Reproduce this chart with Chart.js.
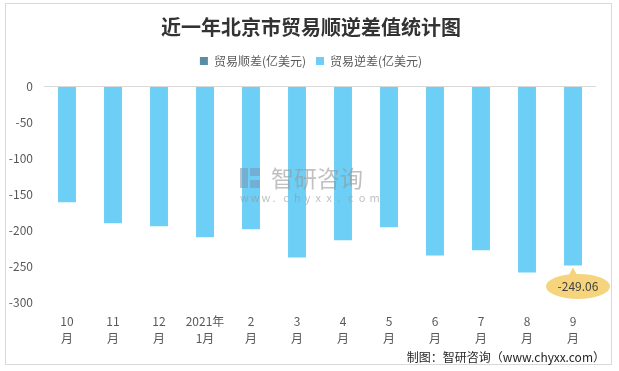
<!DOCTYPE html>
<html>
<head>
<meta charset="utf-8">
<script src="https://cdn.jsdelivr.net/npm/chart.js@4.4.1/dist/chart.umd.min.js"></script>
<style>
  html, body { margin: 0; padding: 0; background: #ffffff; }
  #wrap { position: relative; width: 619px; height: 371px; }
  canvas { display: block; }
</style>
</head>
<body>
<div id="wrap"><canvas id="c" width="619" height="371"></canvas></div>
<script>
const titleText = '近一年北京市贸易顺逆差值统计图';
const categories = [['10','月'],['11','月'],['12','月'],['2021年','1月'],['2','月'],['3','月'],['4','月'],['5','月'],['6','月'],['7','月'],['8','月'],['9','月']];
const surplusLabel = '贸易顺差(亿美元)';
const deficitLabel = '贸易逆差(亿美元)';
const surplus = [null, null, null, null, null, null, null, null, null, null, null, null];
const deficit = [-161.2, -190.5, -194.6, -210.0, -198.8, -237.9, -214.2, -196.0, -235.1, -228.1, -258.8, -249.06];
const yMin = -300, yMax = 0, yStep = 50;
const calloutIndex = 11;
const footerText = '制图：智研咨询（www.chyxx.com）';
const watermarkName = '智研咨询';
const watermarkUrl = 'www.chyxx.com';

const FONT = "'Noto Sans CJK SC', 'Noto Sans', sans-serif";

const decorPlugin = {
  id: 'decor',
  beforeDraw(chart) {
    const ctx = chart.ctx;
    ctx.save();
    ctx.strokeStyle = '#d9d9d9';
    ctx.lineWidth = 1;
    ctx.strokeRect(5.5, 3.5, 606, 361);
    ctx.restore();
  },
  afterDatasetsDraw(chart) {
    const ctx = chart.ctx;
    // watermark
    ctx.save();
    ctx.fillStyle = 'rgba(120,150,180,0.55)';
    ctx.fillRect(240, 168, 8, 20);
    ctx.fillRect(250, 168, 10, 8);
    ctx.fillRect(250, 180, 10, 8);
    ctx.fillStyle = 'rgba(150,150,150,0.6)';
    ctx.font = "23px " + FONT;
    ctx.textBaseline = 'middle';
    ctx.textAlign = 'left';
    ctx.fillText(watermarkName, 271, 178);
    ctx.font = "11px " + FONT;
    const chars = watermarkUrl.split('');
    let x = 240;
    chars.forEach(ch => { ctx.fillText(ch, x, 198); x += 10.8; });
    ctx.restore();

    // callout
    const meta = chart.getDatasetMeta(1);
    const el = meta.data[calloutIndex];
    if (!el) return;
    const bx = el.x, by = el.y;
    const cx = bx + 5, cy = by + 21;
    ctx.save();
    ctx.fillStyle = '#F6D47E';
    ctx.beginPath();
    ctx.moveTo(bx - 6, cy - 8);
    ctx.lineTo(bx, by + 2);
    ctx.lineTo(bx + 6, cy - 8);
    ctx.closePath();
    ctx.fill();
    ctx.beginPath();
    ctx.ellipse(cx, cy, 32, 12.5, 0, 0, Math.PI * 2);
    ctx.fill();
    ctx.fillStyle = '#404040';
    ctx.font = "12px " + FONT;
    ctx.textAlign = 'center';
    ctx.textBaseline = 'middle';
    ctx.fillText(deficit[calloutIndex].toFixed(2), cx, cy);
    ctx.restore();
  },
  afterDraw(chart) {
    const ctx = chart.ctx;
    ctx.save();
    ctx.fillStyle = '#262626';
    ctx.font = "12px " + FONT;
    ctx.textAlign = 'right';
    ctx.textBaseline = 'middle';
    ctx.fillText(footerText, 605, 357);
    ctx.restore();
  }
};

new Chart(document.getElementById('c'), {
  type: 'bar',
  data: {
    labels: categories,
    datasets: [
      { label: surplusLabel, data: surplus, backgroundColor: '#5A8CA5', grouped: false },
      { label: deficitLabel, data: deficit, backgroundColor: '#6DCFF6', grouped: false }
    ]
  },
  options: {
    responsive: false,
    animation: false,
    devicePixelRatio: 1,
    layout: { padding: { left: 5, right: 2, top: 0, bottom: 24 } },
    datasets: { bar: { categoryPercentage: 1, barPercentage: 0.39 } },
    plugins: {
      title: {
        display: true,
        text: titleText,
        color: '#333333',
        font: { family: FONT, size: 20, weight: 'bold', lineHeight: 1.2 },
        padding: { top: 15, bottom: 6 }
      },
      legend: {
        display: true,
        position: 'top',
        labels: {
          color: '#595959',
          font: { family: FONT, size: 12 },
          boxWidth: 8,
          boxHeight: 8,
          padding: 10
        }
      },
      tooltip: { enabled: false }
    },
    scales: {
      x: {
        grid: { display: false, drawTicks: false },
        border: { display: false },
        ticks: {
          color: '#595959',
          font: { family: FONT, size: 12, lineHeight: 1.4 },
          padding: 11,
          maxRotation: 0,
          autoSkip: false
        },
        afterFit(scale) { scale.height = 45; }
      },
      xTop: {
        type: 'category',
        position: 'top',
        display: true,
        ticks: { display: false },
        grid: { display: false, drawTicks: false },
        border: { display: false },
        afterFit(scale) { scale.height = 9.5; }
      },
      y: {
        min: yMin,
        max: yMax,
        ticks: {
          stepSize: yStep,
          color: '#595959',
          font: { family: FONT, size: 12 },
          padding: 11
        },
        grid: {
          drawTicks: false,
          color: (c) => (c.tick && c.tick.value === 0 ? '#d9d9d9' : 'rgba(0,0,0,0)')
        },
        border: { display: false },
        afterFit(scale) { scale.width = 39; }
      },
      yRight: {
        position: 'right',
        display: true,
        ticks: { display: false },
        grid: { display: false, drawTicks: false },
        border: { display: false },
        afterFit(scale) { scale.width = 21; }
      }
    }
  },
  plugins: [decorPlugin]
});
</script>
</body>
</html>
